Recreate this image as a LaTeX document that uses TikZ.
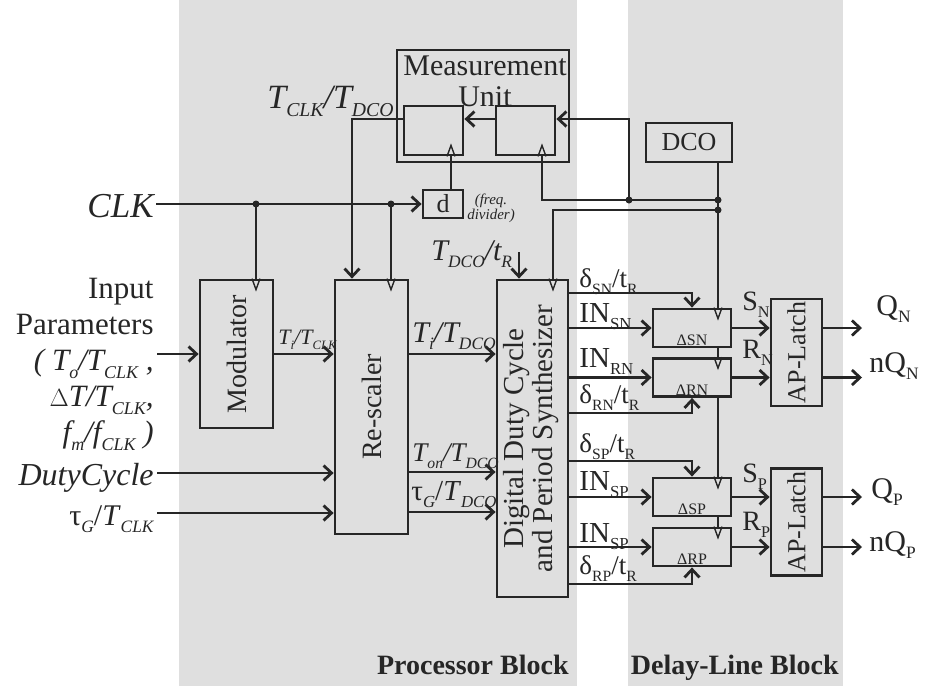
\documentclass[tikz,border=0pt]{standalone}
\usepackage{fontspec}
\setmainfont{Liberation Serif}
\usepackage{graphicx}
\usetikzlibrary{positioning,arrows.meta}
\definecolor{blkgray}{HTML}{DFDFDF}
\definecolor{wire}{HTML}{262626}
\newcommand{\fsz}[1]{\fontsize{#1}{#1}\selectfont}
\newcommand{\sbs}[1]{\raisebox{-0.26em}{\scalebox{0.58}{#1}}}
\newcommand{\clkdn}[1]{\draw[clkt] (#1) ++(-4,0) -- ++(4,11) -- ++(4,-11);}
\newcommand{\clkup}[1]{\draw[clkt] (#1) ++(-4,0) -- ++(4,-11) -- ++(4,11);}

\begin{document}
\begin{tikzpicture}[
  x=1pt, y=-1pt, line width=2.8pt, color=wire,
  blk/.style={draw=wire, line width=2.8pt, inner sep=0pt},
  reg/.style={blk, minimum width=59pt, minimum height=49pt},
  dl/.style={blk, minimum width=78pt, minimum height=38pt},
  latch/.style={blk, minimum width=51pt, minimum height=107pt, font=\fsz{26}},
  dlt/.style={anchor=south, inner sep=1.5pt, font=\fsz{16}},
  arr/.style={-{Straight Barb[length=8pt, width=15pt]}},
  clkt/.style={line width=1.4pt},
  lab/.style={inner sep=0pt, anchor=base west},
  dotc/.style={fill=wire},
]
  \useasboundingbox (0,0) rectangle (937,686);
  % block backgrounds
  \fill[blkgray] (179,0) rectangle (577,686);
  \fill[blkgray] (628,0) rectangle (843,686);
  \node[font=\bfseries\fsz{28}, anchor=base east, inner sep=0pt] (procb) at (570,674) {Processor Block};
  \node[font=\bfseries\fsz{28}, anchor=base east, inner sep=0pt] (delb) at (840,674) {Delay-Line Block};

  % measurement unit + clocks
  \node[blk, minimum width=172pt, minimum height=112pt] (meas) at (483,106) {};
  \node[font=\fontsize{30}{31}\selectfont, align=center, inner sep=0pt] (meastxt) at (485,81) {Measurement\\Unit};
  \node[reg] (rega) at (433.5,130.5) {};
  \node[reg] (regb) at (525.5,130.5) {};
  \node[font=\itshape\fsz{34}, inner sep=0pt, anchor=base east] (ratio) at (395,108) {T\sbs{CLK}/T\sbs{DCO}};
  \node[blk, minimum width=86pt, minimum height=39pt, font=\fsz{26}] (dco) at (689,142.5) {DCO};
  \node[blk, minimum width=40pt, minimum height=28pt, font=\fsz{26}] (div) at (443,204) {d};
  \node[inner sep=0pt, font=\itshape\fontsize{15}{15}\selectfont, align=center] (divtxt) at (491,208) {(freq.\\divider)};
  \node[font=\itshape\fsz{35}, inner sep=1pt, anchor=base east] (clk) at (156,217) {CLK};

  % input side
  \node[font=\fontsize{31}{36}\selectfont, align=right, inner sep=0pt, anchor=east] (inp) at (155,364)
    {Input\\Parameters\\\textit{( T\sbs{o}/T\sbs{CLK} ,}\\$\Delta$\textit{T/T\sbs{CLK},}\\\textit{f\sbs{m}/f\sbs{CLK} )}};
  \node[font=\itshape\fsz{32}, inner sep=0pt, anchor=base east] (dutyc) at (155,485) {DutyCycle};
  \node[font=\fsz{30}, inner sep=0pt, anchor=base east] (taug) at (155,525) {τ\sbs{\itshape G}/\textit{T}\sbs{\itshape CLK}};

  % processor blocks
  \node[blk, minimum width=73pt, minimum height=148pt, font=\fsz{28}] (mod) at (236.5,354) {\rotatebox{90}{Modulator}};
  \node[blk, minimum width=73pt, minimum height=254pt, font=\fsz{28}] (resc) at (371.5,407) {\rotatebox{90}{Re-scaler}};
  \node[blk, minimum width=71pt, minimum height=317pt, font=\fontsize{29}{29}\selectfont] (dig) at (532.5,438.5)
    {\rotatebox{90}{\begin{tabular}{@{}c@{}}Digital Duty Cycle\\and Period Synthesizer\end{tabular}}};

  % delay lines and latches
  \node[dl, label={[dlt]south:ΔSN}] (dsn) at (692,328) {};
  \node[dl, label={[dlt]south:ΔRN}] (drn) at (692,377.5) {};
  \node[dl, label={[dlt]south:ΔSP}] (dsp) at (692,497) {};
  \node[dl, label={[dlt]south:ΔRP}] (drp) at (692,547) {};
  \node[latch] (latn) at (796.5,352.5) {\rotatebox{90}{AP-Latch}};
  \node[latch] (latp) at (796.5,522) {\rotatebox{90}{AP-Latch}};

  % clock wiring
  \coordinate (j1) at (256,204);
  \coordinate (j2) at (391,204);
  \coordinate (j3) at (629,200);
  \coordinate (j4) at (718,200);
  \coordinate (j5) at (718,210);
  \coordinate (mdat) at (629,119);
  \coordinate (aclk) at (451,190);
  \coordinate (bclk) at (542,200);
  \coordinate (dclk) at (553,210);
  \coordinate (rin) at (352,119);
  \draw[arr] (clk.east |- div.west) -- (div.west);
  \draw (j1) -- (j1 |- mod.north);
  \draw (j2) -- (j2 |- resc.north);
  \draw (aclk |- div.north) -- (aclk |- rega.south);
  \draw[arr] (rin -| rega.west) -| (rin |- resc.north);
  \draw[arr] (regb.west |- mdat) -- (rega.east |- mdat);
  \draw[arr] (j3) |- (regb.east |- mdat);
  \draw (j4) -- (bclk) -- (bclk |- regb.south);
  \draw (j5) -- (dclk) -- (dclk |- dig.north);
  \draw (j4 |- dco.south) -- (j4 |- dsn.north);
  \draw (j4 |- dsn.south) -- (j4 |- drn.north);
  \draw (j4 |- drn.south) -- (j4 |- dsp.north);
  \draw (j4 |- dsp.south) -- (j4 |- drp.north);
  \foreach \j in {j1,j2,j3,j4,j5} \fill[dotc] (\j) circle[radius=3.5pt];
  \clkup{aclk |- rega.south}
  \clkup{bclk |- regb.south}
  \clkdn{j1 |- mod.north}
  \clkdn{j2 |- resc.north}
  \clkdn{dclk |- dig.north}
  \clkdn{j4 |- dsn.north}
  \clkdn{j4 |- drn.north}
  \clkdn{j4 |- dsp.north}
  \clkdn{j4 |- drp.north}

  % data path
  \coordinate (pin) at (157,354);
  \coordinate (dcin) at (157,473);
  \coordinate (tgin) at (157,513);
  \coordinate (ro2) at (408,472);
  \coordinate (ro3) at (408,512);
  \coordinate (tdin) at (519,252);
  \draw[arr] (pin) -- (mod.west);
  \draw[arr] (mod.east) -- (mod.east -| resc.west);
  \draw[arr] (dcin) -- (dcin -| resc.west);
  \draw[arr] (tgin) -- (tgin -| resc.west);
  \draw[arr] (resc.east |- mod.east) -- (dig.west |- mod.east);
  \draw[arr] (ro2) -- (ro2 -| dig.west);
  \draw[arr] (ro3) -- (ro3 -| dig.west);
  \draw[arr] (tdin) -- (tdin |- dig.north);
  \node[lab, font=\itshape\fsz{22}] (lmod) at (277,344) {T\sbs{i}/T\sbs{CLK}};
  \node[lab, font=\itshape\fsz{30}] (lti) at (411,342) {T\sbs{i}/T\sbs{DCO}};
  \node[lab, font=\itshape\fsz{27}] (lton) at (411,461) {T\sbs{on}/T\sbs{DCO}};
  \node[lab, font=\fsz{29}] (ltg) at (410,500) {τ\sbs{\itshape G}/\textit{T}\sbs{\itshape DCO}};
  \node[lab, font=\itshape\fsz{30}] (ltdc) at (430,260) {T\sbs{DCO}/t\sbs{R}};

  % synthesizer outputs
  \coordinate (dsnl) at (692,293);
  \coordinate (drnl) at (692,413);
  \coordinate (dspl) at (692,461);
  \coordinate (drpl) at (692,584);
  \draw[arr] (dig.east |- dsnl) -| (dsn.north);
  \draw[arr] (dig.east |- dsn.west) -- (dsn.west);
  \draw[arr] (dig.east |- drn.west) -- (drn.west);
  \draw[arr] (dig.east |- drnl) -| (drn.south);
  \draw[arr] (dig.east |- dspl) -| (dsp.north);
  \draw[arr] (dig.east |- dsp.west) -- (dsp.west);
  \draw[arr] (dig.east |- drp.west) -- (drp.west);
  \draw[arr] (dig.east |- drpl) -| (drp.south);
  \node[lab, font=\fsz{27}] (lsn) at (578,287) {δ\sbs{SN}/t\sbs{R}};
  \node[lab, font=\fsz{29}] (isn) at (578,322) {IN\sbs{SN}};
  \node[lab, font=\fsz{29}] (irn) at (578,367) {IN\sbs{RN}};
  \node[lab, font=\fsz{27}] (lrn) at (578,403) {δ\sbs{RN}/t\sbs{R}};
  \node[lab, font=\fsz{27}] (lsp) at (578,452) {δ\sbs{SP}/t\sbs{R}};
  \node[lab, font=\fsz{29}] (isp) at (578,490) {IN\sbs{SP}};
  \node[lab, font=\fsz{29}] (irp) at (578,542) {IN\sbs{SP}};
  \node[lab, font=\fsz{27}] (lrp) at (578,574) {δ\sbs{RP}/t\sbs{R}};

  % latch inputs and outputs
  \coordinate (qn) at (862,328);
  \coordinate (nqn) at (862,377.5);
  \coordinate (qp) at (862,497);
  \coordinate (nqp) at (862,547);
  \draw[arr] (dsn.east) -- (dsn.east -| latn.west);
  \draw[arr] (drn.east) -- (drn.east -| latn.west);
  \draw[arr] (dsp.east) -- (dsp.east -| latp.west);
  \draw[arr] (drp.east) -- (drp.east -| latp.west);
  \draw[arr] (latn.east |- qn) -- (qn);
  \draw[arr] (latn.east |- nqn) -- (nqn);
  \draw[arr] (latp.east |- qp) -- (qp);
  \draw[arr] (latp.east |- nqp) -- (nqp);
  \node[lab, font=\fsz{28}] (lsnn) at (741,310) {S\sbs{N}};
  \node[lab, font=\fsz{28}] (lrnn) at (741,358) {R\sbs{N}};
  \node[lab, font=\fsz{28}] (lspp) at (741,482) {S\sbs{P}};
  \node[lab, font=\fsz{28}] (lrpp) at (741,530) {R\sbs{P}};
  \node[lab, font=\fsz{30}] (oqn) at (875,315) {Q\sbs{N}};
  \node[lab, font=\fsz{30}] (onqn) at (868,372) {nQ\sbs{N}};
  \node[lab, font=\fsz{30}] (oqp) at (870,498) {Q\sbs{P}};
  \node[lab, font=\fsz{30}] (onqp) at (868,551) {nQ\sbs{P}};
\end{tikzpicture}
\end{document}
